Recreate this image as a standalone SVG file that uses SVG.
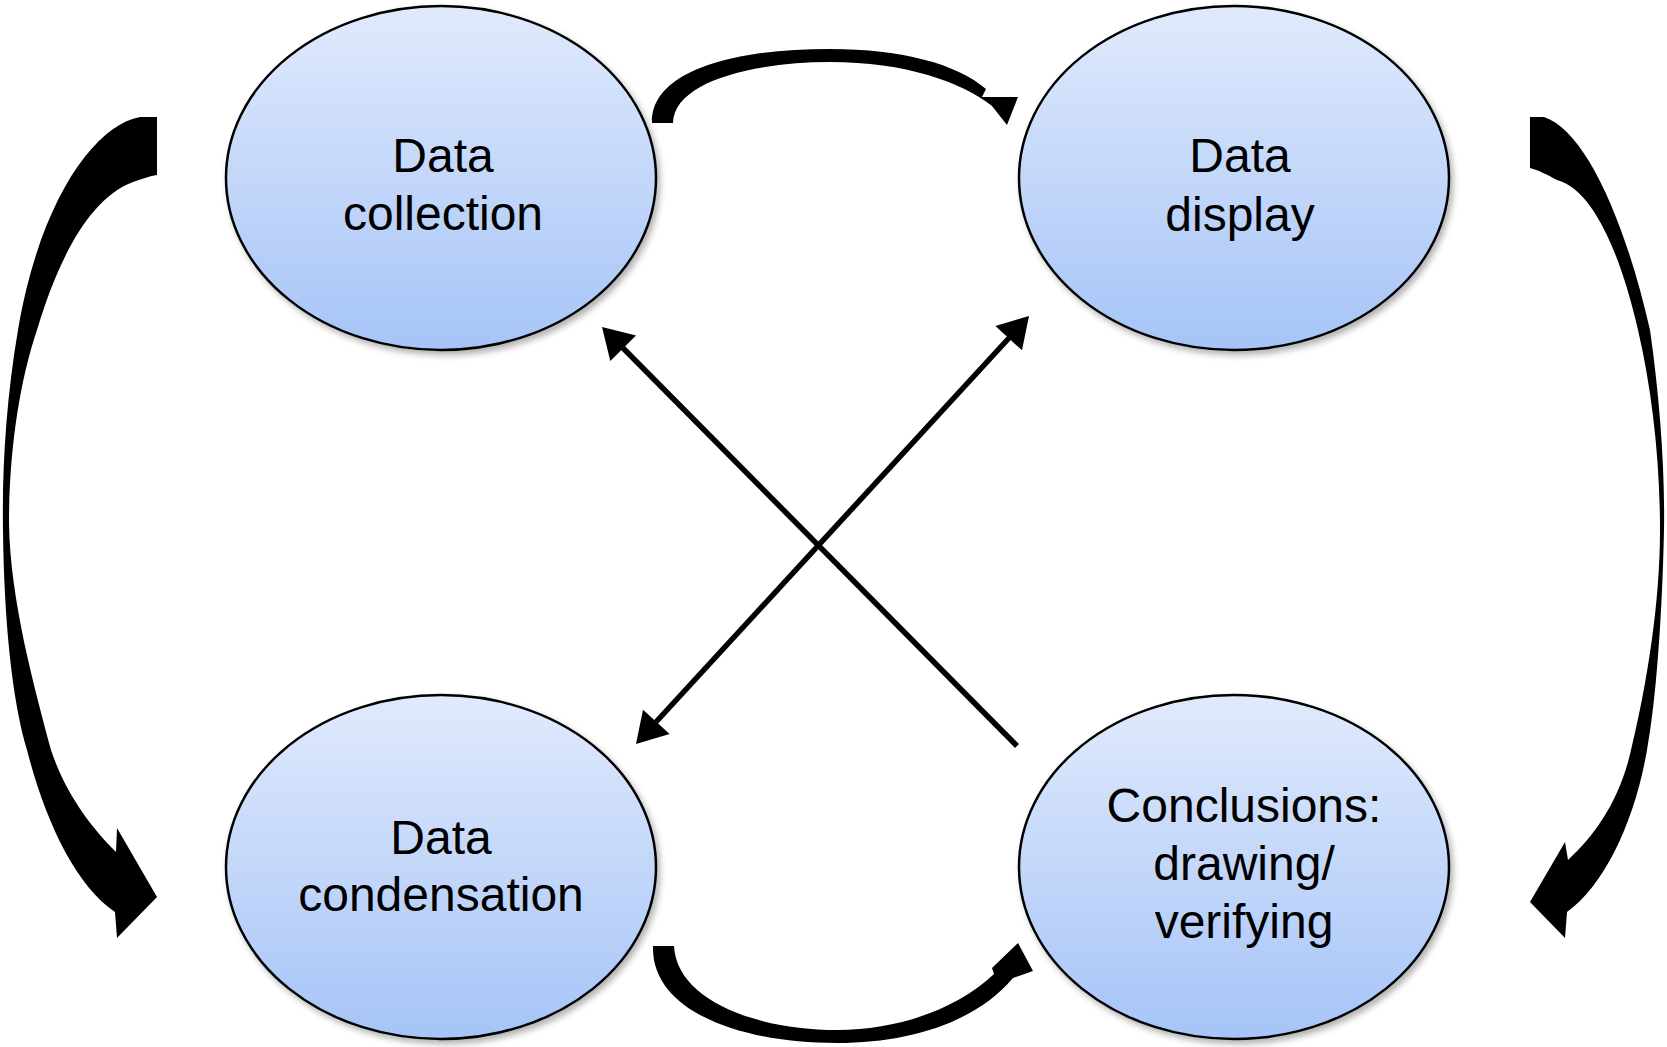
<svg xmlns="http://www.w3.org/2000/svg" width="1667" height="1047" viewBox="0 0 1667 1047">
<defs>
<linearGradient id="fillGrad" x1="0" y1="0" x2="0" y2="1">
<stop offset="0" stop-color="#e0eafc"/>
<stop offset="1" stop-color="#a6c4f7"/>
</linearGradient>
<filter id="shadow" x="-10%" y="-10%" width="125%" height="125%">
<feDropShadow dx="3" dy="4" stdDeviation="3" flood-color="#000" flood-opacity="0.3"/>
</filter>
<style>
.node { fill: url(#fillGrad); stroke: #000; stroke-width: 2.5; filter: url(#shadow); }
.label { font-family: "Liberation Sans", Arial, sans-serif; font-size: 48px; fill: #000; text-anchor: middle; }
.thin { stroke: #000; stroke-width: 5.5; fill: none; }
.solid { fill: #000; stroke: none; }
</style>
</defs>
<rect width="1667" height="1047" fill="#fff"/>
<g id="connectors">
<!-- left big curved arrow -->
<path class="solid" d="M157,117 L140,117 C95,125 40,200 18,330 C6,400 2,470 3,530 C4,620 12,700 27,750 C45,820 75,885 115,912 L117,938 L157,897 L117,828 L116,852 C92,828 66,795 51,750 C35,690 10,600 9,523 C9,450 20,380 37,330 C55,270 85,200 133,182 C142,179 150,176 157,175 Z"/>
<!-- right big curved arrow -->
<path class="solid" d="M1530,117 L1544,117 C1585,130 1625,220 1650,330 C1660,400 1665,470 1664,530 C1662,620 1656,700 1647,750 C1635,820 1605,885 1567,912 L1565,938 L1530,902 L1565,842 L1568,860 C1595,835 1620,800 1631,750 C1648,680 1660,600 1660,530 C1660,460 1652,390 1638,330 C1622,260 1595,190 1557,180 C1548,175 1538,170 1530,168 Z"/>
<!-- top arc arrow -->
<path class="solid" d="M652,123 C651,72 730,49 830,49 C902,49 957,64 986,89 L982,97 L1018,97 L1007,125 L992,106 C962,82 905,62 830,62 C758,62 674,80 673,123 Z"/>
<!-- bottom arc arrow -->
<path class="solid" d="M653,946 L674,946 C677,1002 760,1030 837,1030 C900,1030 958,1008 994,974 L992,968 L1018,943 L1033,971 L1013,978 C976,1022 910,1043 837,1043 C738,1043 651,1010 653,946 Z"/>
<!-- diagonal: conclusions to data collection -->
<line class="thin" x1="1017" y1="746" x2="623" y2="348"/>
<polygon class="solid" points="602,327 636,335.6 610.3,361"/>
<!-- diagonal: condensation <-> display -->
<line class="thin" x1="656" y1="722" x2="1009" y2="338"/>
<polygon class="solid" points="1029,316 1022,350.3 995.4,325.9"/>
<polygon class="solid" points="636,744 669.6,734.1 643,709.7"/>
</g>
<g id="node-collection">
<ellipse class="node" cx="441" cy="178" rx="215" ry="172"/>
<text class="label" x="443" y="172">Data</text>
<text class="label" x="443" y="230">collection</text>
</g>
<g id="node-display">
<ellipse class="node" cx="1234" cy="178" rx="215" ry="172"/>
<text class="label" x="1240" y="172">Data</text>
<text class="label" x="1240" y="231">display</text>
</g>
<g id="node-condensation">
<ellipse class="node" cx="441" cy="867" rx="215" ry="172"/>
<text class="label" x="441" y="854">Data</text>
<text class="label" x="441" y="911">condensation</text>
</g>
<g id="node-conclusions">
<ellipse class="node" cx="1234" cy="867" rx="215" ry="172"/>
<text class="label" x="1244" y="822">Conclusions:</text>
<text class="label" x="1244" y="880">drawing/</text>
<text class="label" x="1244" y="938">verifying</text>
</g>
</svg>
